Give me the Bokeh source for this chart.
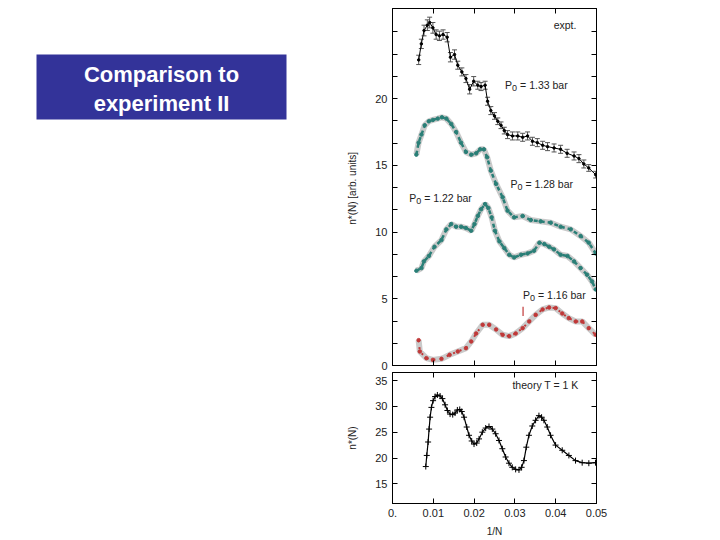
from bokeh.plotting import figure
from bokeh.models import (Range1d, LinearAxis, FixedTicker, CustomJSTickFormatter,
                          Label, Whisker, TeeHead, ColumnDataSource)
from bokeh.layouts import row, column
from bokeh.core.properties import value
from bokeh.embed import file_html
from bokeh.resources import INLINE

FONT = "Liberation Sans"

# ---------------- data ----------------
# experiment P0 = 1.33 bar
expt_x = [0.00642, 0.00707, 0.00773, 0.00854, 0.0091, 0.0099, 0.0107, 0.0115, 0.0124, 0.0134,
          0.0142, 0.0152, 0.016, 0.017, 0.018, 0.0189, 0.0199, 0.0209, 0.0217, 0.0227,
          0.0233, 0.0241, 0.025, 0.0258, 0.0266, 0.0274, 0.0282, 0.0294, 0.0307, 0.0319,
          0.0331, 0.0343, 0.0355, 0.0368, 0.038, 0.0396, 0.0412, 0.0428, 0.0445, 0.0457,
          0.0469, 0.0481, 0.0498]
expt_y = [22.9, 24.1, 25.1, 25.5, 25.7, 25.3, 24.8, 24.7, 24.8, 24.6,
          23.1, 23.3, 22.5, 22.0, 21.5, 20.7, 21.3, 21.0, 20.9, 21.0,
          19.8, 19.1, 18.7, 18.3, 18.0, 17.6, 17.3, 17.2, 17.2, 17.1,
          17.2, 16.8, 16.7, 16.5, 16.4, 16.3, 16.2, 15.9, 15.7, 15.5,
          15.1, 14.8, 14.3]
expt_err = [0.35, 0.35, 0.4, 0.4, 0.4, 0.4, 0.35, 0.35, 0.35, 0.35,
            0.35, 0.35, 0.3, 0.3, 0.3, 0.35, 0.35, 0.3, 0.3, 0.3,
            0.3, 0.3, 0.25, 0.25, 0.25, 0.25, 0.3, 0.3, 0.3, 0.3,
            0.3, 0.3, 0.3, 0.3, 0.3, 0.3, 0.3, 0.3, 0.3, 0.3,
            0.3, 0.25, 0.25]

# P0 = 1.28 bar
p128_x = [0.00585, 0.0064, 0.0071, 0.0079, 0.0089, 0.0099, 0.0111, 0.0121, 0.0132, 0.0144,
          0.0156, 0.0168, 0.018, 0.0193, 0.0205, 0.0215, 0.0224, 0.0232, 0.0241, 0.0254,
          0.027, 0.0282, 0.0298, 0.0319, 0.0339, 0.0363, 0.0388, 0.0412, 0.0437, 0.0461,
          0.0481, 0.0498]
p128_y = [15.8, 16.7, 17.3, 18.0, 18.3, 18.4, 18.5, 18.6, 18.5, 18.1,
          17.5, 16.7, 16.0, 15.8, 15.9, 16.2, 16.2, 15.6, 14.6, 13.6,
          12.6, 11.6, 11.1, 11.2, 10.9, 10.8, 10.7, 10.4, 10.2, 9.7,
          9.2, 8.4]

# P0 = 1.22 bar
p122_x = [0.00585, 0.0071, 0.0077, 0.0089, 0.0103, 0.012, 0.0132, 0.0144, 0.0156, 0.0168,
          0.018, 0.0193, 0.0201, 0.0209, 0.0217, 0.0227, 0.0235, 0.0243, 0.0251, 0.0262,
          0.0274, 0.0286, 0.0298, 0.0315, 0.0331, 0.0347, 0.036, 0.0372, 0.0384, 0.0396,
          0.0412, 0.0429, 0.0445, 0.0461, 0.0477, 0.0489, 0.0498]
p122_y = [7.1, 7.3, 7.8, 8.2, 8.9, 9.4, 10.2, 10.6, 10.4, 10.4,
          10.3, 10.1, 10.6, 11.2, 11.7, 12.1, 11.8, 11.1, 10.1, 9.3,
          8.8, 8.3, 8.1, 8.3, 8.4, 8.6, 9.2, 9.1, 8.9, 8.7,
          8.3, 8.2, 7.8, 7.3, 6.8, 6.3, 5.7]

# P0 = 1.16 bar
p116_x = [0.0064, 0.0067, 0.0083, 0.0099, 0.012, 0.014, 0.016, 0.018, 0.0193, 0.0205,
          0.0221, 0.0237, 0.0254, 0.027, 0.0286, 0.0302, 0.0319, 0.0335, 0.0351, 0.0368,
          0.0384, 0.04, 0.0416, 0.0432, 0.0449, 0.0465, 0.0481, 0.0498]
p116_y = [1.9, 1.05, 0.55, 0.42, 0.5, 0.8, 1.05, 1.3, 1.8, 2.4,
          3.05, 3.05, 2.7, 2.3, 2.2, 2.4, 2.8, 3.3, 3.8, 4.2,
          4.35, 4.3, 3.9, 3.55, 3.3, 3.3, 2.8, 2.3]
marker_116_x = [0.0320]
marker_116_lo = [3.7]
marker_116_hi = [4.4]

# theory T = 1 K
th_x = [0.00816, 0.0084, 0.00873, 0.00897, 0.00922, 0.00954, 0.00995, 0.01044, 0.0110, 0.01166,
        0.01223, 0.01289, 0.01346, 0.01411, 0.01476, 0.01533, 0.0159, 0.01648, 0.01697, 0.01754,
        0.01819, 0.01876, 0.01941, 0.01998, 0.02064, 0.02121, 0.02202, 0.02284, 0.02365, 0.02447,
        0.02528, 0.0261, 0.02692, 0.02773, 0.02855, 0.02936, 0.03018, 0.031, 0.03165, 0.03222,
        0.03279, 0.03344, 0.03426, 0.03507, 0.03589, 0.03654, 0.03711, 0.03793, 0.03874, 0.03997,
        0.0416, 0.04323, 0.04486, 0.04649, 0.04812, 0.04976]
th_y = [18.35, 20.5, 23.1, 25.6, 27.9, 29.8, 31.1, 31.9, 32.2, 32.0,
        31.5, 30.3, 29.2, 28.5, 28.4, 28.7, 29.3, 29.4, 29.0, 27.9,
        26.0, 24.4, 23.3, 22.7, 22.9, 23.7, 25.0, 25.8, 26.1, 25.6,
        24.7, 23.4, 21.8, 20.2, 19.0, 18.2, 17.8, 17.7, 18.2, 19.5,
        22.1, 24.4, 26.2, 27.3, 28.2, 27.9, 27.3, 26.0, 24.4, 22.5,
        21.5, 20.5, 19.5, 19.1, 19.0, 19.1]

x_ticks = [0.0, 0.01, 0.02, 0.03, 0.04, 0.05]
top_y_ticks = [i * 5.0 / 3.0 for i in range(16)]
bot_y_ticks = [15, 20, 25, 30, 35]

TITLE_LINES = ["Comparison to", "experiment II"]


# ---------------- helpers ----------------
def silent_axis(ticks):
    return LinearAxis(ticker=FixedTicker(ticks=ticks), formatter=CustomJSTickFormatter(code="return '';"),
                      major_tick_in=5, major_tick_out=0, minor_tick_in=0, minor_tick_out=0,
                      major_label_standoff=0, axis_line_color="black", major_tick_line_color="black")


def style_label_axis(ax, ticks, fmt_code, label):
    ax.ticker = FixedTicker(ticks=ticks)
    ax.formatter = CustomJSTickFormatter(code=fmt_code)
    ax.major_tick_in = 5
    ax.major_tick_out = 0
    ax.minor_tick_in = 0
    ax.minor_tick_out = 0
    ax.major_label_standoff = 5
    ax.major_label_text_font = FONT
    ax.major_label_text_font_size = "11px"
    ax.major_label_text_color = "#222222"
    ax.axis_line_color = "black"
    ax.major_tick_line_color = "black"
    ax.axis_label = label
    ax.axis_label_text_font = FONT
    ax.axis_label_text_font_size = "10px"
    ax.axis_label_text_font_style = "normal"
    ax.axis_label_text_color = "#222222"


def add_text(p, x, y, txt, size="10.5px"):
    p.add_layout(Label(x=x, y=y, text=txt, text_font=FONT, text_font_size=size,
                       text_color="#222222", text_baseline="middle"))


# ---------------- title panel ----------------
left = figure(width=340, height=138, x_range=Range1d(0, 340), y_range=Range1d(138, 0),
              x_axis_type=None, y_axis_type=None, min_border=0, output_backend="svg",
              toolbar_location=None, outline_line_color=None)
left.grid.visible = False
left.quad(left=36, right=286, top=54, bottom=119, fill_color="#333399", line_color=None)
left.text(x=[161, 161], y=[73.5, 102.5], text=TITLE_LINES, text_align="center",
          text_baseline="middle", text_color="white", text_font=value(FONT),
          text_font_style="bold", text_font_size="22px")

# ---------------- top (experiment) panel ----------------
top = figure(width=270, height=371, x_range=Range1d(0, 0.05), y_range=Range1d(0, 26.75),
             x_axis_type=None, y_axis_type=None, min_border_left=52, min_border_right=14,
             min_border_top=8, min_border_bottom=6, output_backend="svg",
             toolbar_location=None, outline_line_color="black")
top.grid.visible = False
ly = LinearAxis()
style_label_axis(ly, top_y_ticks,
                 "if (Math.abs(tick/5 - Math.round(tick/5)) < 1e-6 && tick < 21) {return Math.round(tick).toString();} return '';",
                 "n*(N)  [arb. units]")
ly.axis_label_standoff = 14
top.add_layout(ly, "left")
top.add_layout(silent_axis(top_y_ticks), "right")
top.add_layout(silent_axis(x_ticks), "below")
top.add_layout(silent_axis(x_ticks), "above")

# P0 = 1.16
top.line(p116_x, p116_y, line_color="#c4c4c4", line_width=6, line_alpha=0.9)
top.line(p116_x, p116_y, line_color="#c03838", line_width=2, line_dash="2 5")
top.scatter(p116_x, p116_y, size=3.5, color="#c03838")
top.segment(x0=marker_116_x, y0=marker_116_lo, x1=marker_116_x, y1=marker_116_hi,
            line_color="#c03838", line_width=1.2)
# P0 = 1.22
top.line(p122_x, p122_y, line_color="#c4c4c4", line_width=6, line_alpha=0.9)
top.line(p122_x, p122_y, line_color="#2a7f77", line_width=2.5, line_dash="4 3")
top.scatter(p122_x, p122_y, size=3.5, color="#2a7f77")
# P0 = 1.28
top.line(p128_x, p128_y, line_color="#c4c4c4", line_width=6, line_alpha=0.9)
top.line(p128_x, p128_y, line_color="#2a7f77", line_width=2.5, line_dash="4 3")
top.scatter(p128_x, p128_y, size=3.5, color="#2a7f77")
# experiment 1.33
src = ColumnDataSource(dict(x=expt_x, y=expt_y,
                            lo=[a - b for a, b in zip(expt_y, expt_err)],
                            hi=[a + b for a, b in zip(expt_y, expt_err)]))
top.add_layout(Whisker(base="x", lower="lo", upper="hi", source=src, line_color="#555555",
                       line_width=1,
                       upper_head=TeeHead(size=5, line_color="#555555"),
                       lower_head=TeeHead(size=5, line_color="#555555")))
top.line("x", "y", source=src, line_color="black", line_width=1)
top.scatter("x", "y", source=src, size=2.5, color="black")

add_text(top, 0.0395, 25.5, "expt.")
for (lx, lyv, rest) in [(0.0276, 21.0, "= 1.33 bar"), (0.0289, 13.6, "= 1.28 bar"),
                        (0.0041, 12.55, "= 1.22 bar"), (0.032, 5.3, "= 1.16 bar")]:
    top.add_layout(Label(x=lx, y=lyv, text="P", text_font=FONT, text_font_size="10.5px",
                         text_color="#222222", text_baseline="middle"))
    top.add_layout(Label(x=lx, y=lyv, x_offset=7, y_offset=-3, text="0", text_font=FONT,
                         text_font_size="9px", text_color="#222222", text_baseline="middle"))
    top.add_layout(Label(x=lx, y=lyv, x_offset=15, text=rest, text_font=FONT,
                         text_font_size="10.5px", text_color="#222222", text_baseline="middle"))

# ---------------- bottom (theory) panel ----------------
bot = figure(width=270, height=168, x_range=Range1d(0, 0.05), y_range=Range1d(11.2, 36.55),
             x_axis_type=None, y_axis_type=None, min_border_left=52, min_border_right=14,
             min_border_top=1, min_border_bottom=36, output_backend="svg",
             toolbar_location=None, outline_line_color="black")
bot.grid.visible = False
by = LinearAxis()
style_label_axis(by, bot_y_ticks, "return tick.toFixed(0);", "n*(N)")
by.axis_label_standoff = 14
bot.add_layout(by, "left")
bx = LinearAxis()
style_label_axis(bx, x_ticks, "if (tick == 0) {return '0.';} return tick.toFixed(2);", "1/N")
bx.major_label_standoff = 5
bx.axis_label_standoff = 6
bot.add_layout(bx, "below")
bot.add_layout(silent_axis(bot_y_ticks), "right")
bot.add_layout(silent_axis(x_ticks), "above")

bot.line(th_x, th_y, line_color="black", line_width=1.2)
bot.scatter(th_x, th_y, marker="cross", size=6, line_color="black", line_width=1)
add_text(bot, 0.0294, 34.2, "theory  T = 1 K")

layout = row(left, column(top, bot))

with open("out.html", "w") as f:
    f.write(file_html(layout, INLINE))
